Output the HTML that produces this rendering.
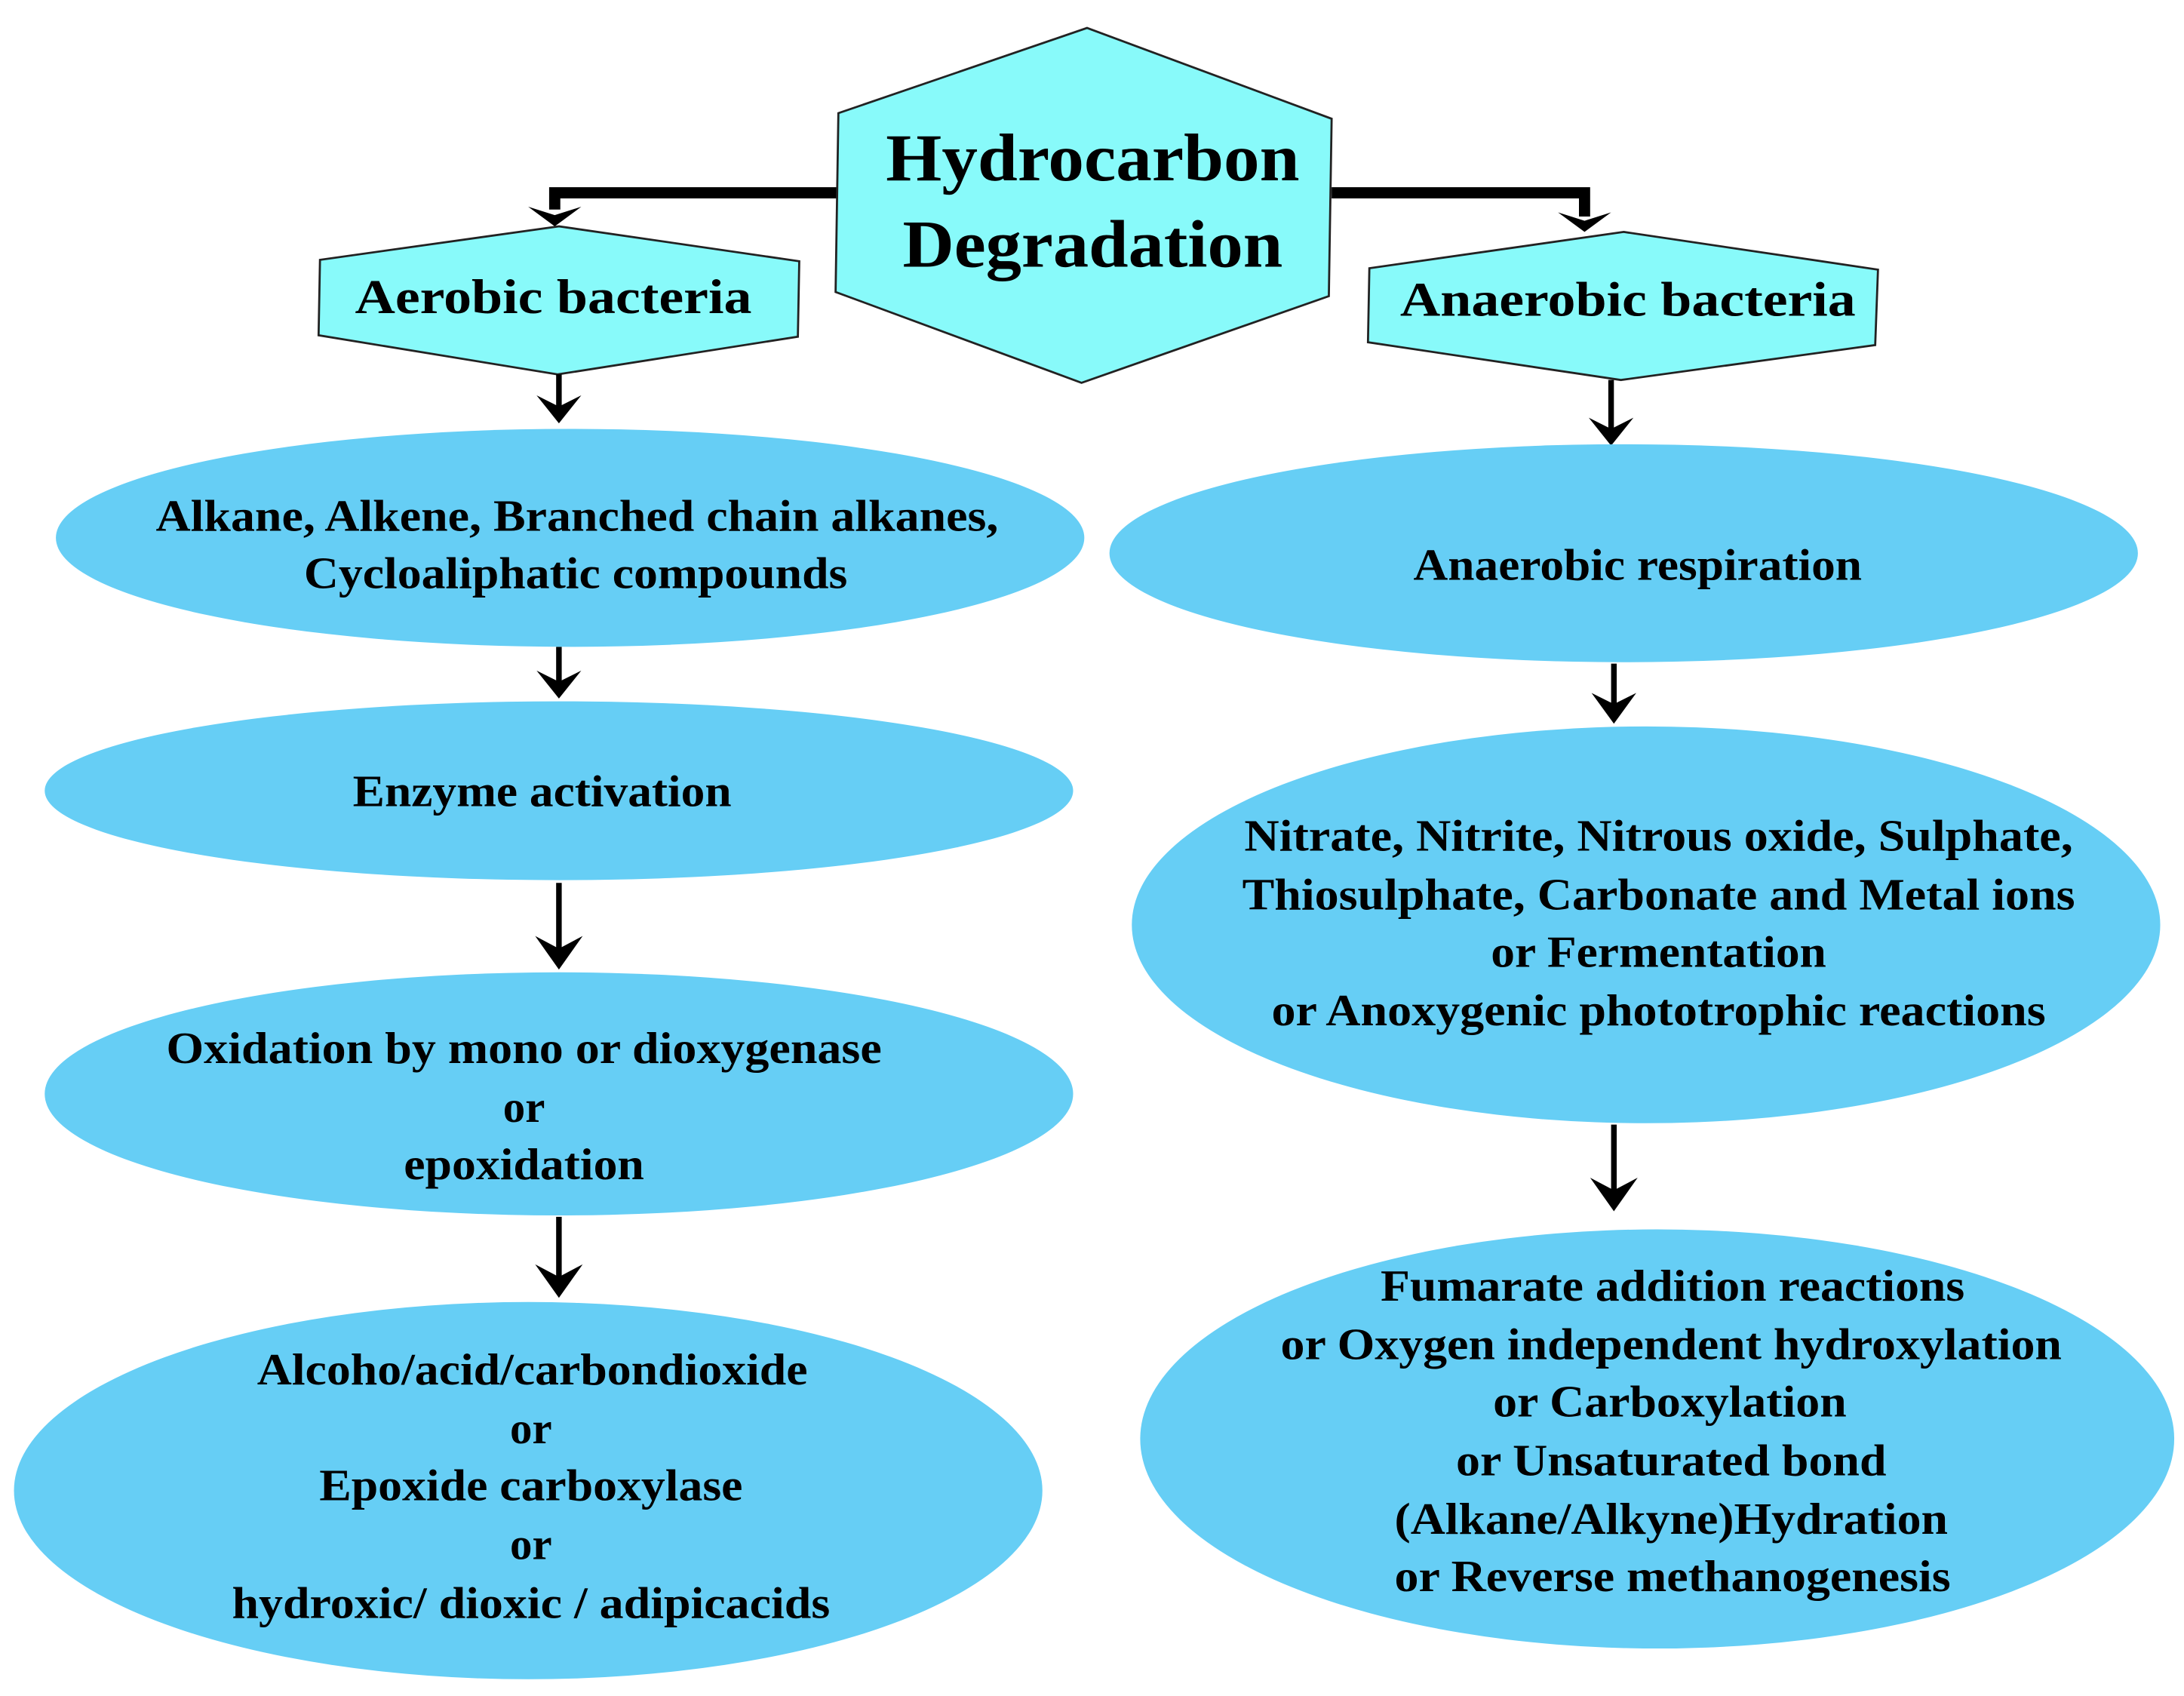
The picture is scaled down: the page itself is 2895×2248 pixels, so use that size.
<!DOCTYPE html>
<html><head><meta charset="utf-8"><style>
html,body{margin:0;padding:0;background:#fff;}
svg{display:block;}
text{font-family:"Liberation Serif",serif;font-weight:bold;fill:#000;}
</style></head><body>
<svg width="2895" height="2248" viewBox="0 0 1563 1214" preserveAspectRatio="none" xmlns="http://www.w3.org/2000/svg">
<!-- connectors -->
<polyline points="600,138 397,138 397,150" fill="none" stroke="#000" stroke-width="8"/>
<polygon points="378,148 397,162 416,148 397,154" fill="#000"/>
<polyline points="953,138 1134,138 1134,155" fill="none" stroke="#000" stroke-width="8"/>
<polygon points="1115,152 1134,166 1153,152 1134,158" fill="#000"/>
<!-- central hexagon -->
<polygon points="778,20 953,85 951,212 774,274 598,209 600,81" fill="#88fafa" stroke="#222" stroke-width="1.5"/>
<text x="782" y="129" font-size="48" text-anchor="middle" textLength="296" lengthAdjust="spacingAndGlyphs">Hydrocarbon</text>
<text x="782" y="191" font-size="48" text-anchor="middle" textLength="272" lengthAdjust="spacingAndGlyphs">Degradation</text>
<!-- side hexagons -->
<polygon points="400,162 572,187 571,241 399,268 228,240 229,186" fill="#88fafa" stroke="#222" stroke-width="1.5"/>
<text x="396" y="224" font-size="35" text-anchor="middle" textLength="284" lengthAdjust="spacingAndGlyphs">Aerobic bacteria</text>
<polygon points="1162,166 1344,193 1342,247 1160,272 979,245 980,192" fill="#88fafa" stroke="#222" stroke-width="1.5"/>
<text x="1165" y="226" font-size="35" text-anchor="middle" textLength="326" lengthAdjust="spacingAndGlyphs">Anaerobic bacteria</text>
<!-- vertical arrows -->
<g stroke="#000" stroke-width="4">
<line x1="400" y1="268" x2="400" y2="292"/>
<line x1="1153" y1="272" x2="1153" y2="308"/>
<line x1="400" y1="463" x2="400" y2="490"/>
<line x1="400" y1="632" x2="400" y2="680"/>
<line x1="400" y1="871" x2="400" y2="915"/>
<line x1="1155" y1="475" x2="1155" y2="505"/>
<line x1="1155" y1="805" x2="1155" y2="853"/>
</g>
<g fill="#000">
<polygon points="384,283 400,303 416,283 400,291"/>
<polygon points="1137,299 1153,319 1169,299 1153,307"/>
<polygon points="384,480 400,500 416,480 400,488"/>
<polygon points="383,670 400,694 417,670 400,679"/>
<polygon points="383,905 400,929 417,905 400,914"/>
<polygon points="1139,496 1155,518 1171,496 1155,504"/>
<polygon points="1138,843 1155,867 1172,843 1155,852"/>
</g>
<!-- ellipses -->
<g fill="#66cef5">
<ellipse cx="408" cy="385" rx="368" ry="78"/>
<ellipse cx="400" cy="566" rx="368" ry="64"/>
<ellipse cx="400" cy="783" rx="368" ry="87"/>
<ellipse cx="378" cy="1067" rx="368" ry="135"/>
<ellipse cx="1162" cy="396" rx="368" ry="78"/>
<ellipse cx="1178" cy="662" rx="368" ry="142"/>
<ellipse cx="1186" cy="1030" rx="370" ry="150"/>
</g>
<g font-size="32" text-anchor="middle">
<text x="413" y="380" textLength="603" lengthAdjust="spacingAndGlyphs">Alkane, Alkene, Branched chain alkanes,</text>
<text x="412" y="421" textLength="389" lengthAdjust="spacingAndGlyphs">Cycloaliphatic compounds</text>
<text x="388" y="577" textLength="271" lengthAdjust="spacingAndGlyphs">Enzyme activation</text>
<text x="375" y="761" textLength="512" lengthAdjust="spacingAndGlyphs">Oxidation by mono or dioxygenase</text>
<text x="375" y="803" textLength="30" lengthAdjust="spacingAndGlyphs">or</text>
<text x="375" y="844" textLength="172" lengthAdjust="spacingAndGlyphs">epoxidation</text>
<text x="381" y="991" textLength="394" lengthAdjust="spacingAndGlyphs">Alcoho/acid/carbondioxide</text>
<text x="380" y="1033" textLength="30" lengthAdjust="spacingAndGlyphs">or</text>
<text x="380" y="1074" textLength="303" lengthAdjust="spacingAndGlyphs">Epoxide carboxylase</text>
<text x="380" y="1116" textLength="30" lengthAdjust="spacingAndGlyphs">or</text>
<text x="380" y="1158" textLength="428" lengthAdjust="spacingAndGlyphs">hydroxic/ dioxic / adipicacids</text>
<text x="1172" y="415" textLength="321" lengthAdjust="spacingAndGlyphs">Anaerobic respiration</text>
<text x="1187" y="609" textLength="593" lengthAdjust="spacingAndGlyphs">Nitrate, Nitrite, Nitrous oxide, Sulphate,</text>
<text x="1187" y="651" textLength="596" lengthAdjust="spacingAndGlyphs">Thiosulphate, Carbonate and Metal ions</text>
<text x="1187" y="692" textLength="240" lengthAdjust="spacingAndGlyphs">or Fermentation</text>
<text x="1187" y="734" textLength="554" lengthAdjust="spacingAndGlyphs">or Anoxygenic phototrophic reactions</text>
<text x="1197" y="931" textLength="418" lengthAdjust="spacingAndGlyphs">Fumarate addition reactions</text>
<text x="1196" y="973" textLength="559" lengthAdjust="spacingAndGlyphs">or Oxygen independent hydroxylation</text>
<text x="1195" y="1014" textLength="253" lengthAdjust="spacingAndGlyphs">or Carboxylation</text>
<text x="1196" y="1056" textLength="308" lengthAdjust="spacingAndGlyphs">or Unsaturated bond</text>
<text x="1196" y="1098" textLength="396" lengthAdjust="spacingAndGlyphs">(Alkane/Alkyne)Hydration</text>
<text x="1197" y="1139" textLength="398" lengthAdjust="spacingAndGlyphs">or Reverse methanogenesis</text>
</g>
</svg>
</body></html>
